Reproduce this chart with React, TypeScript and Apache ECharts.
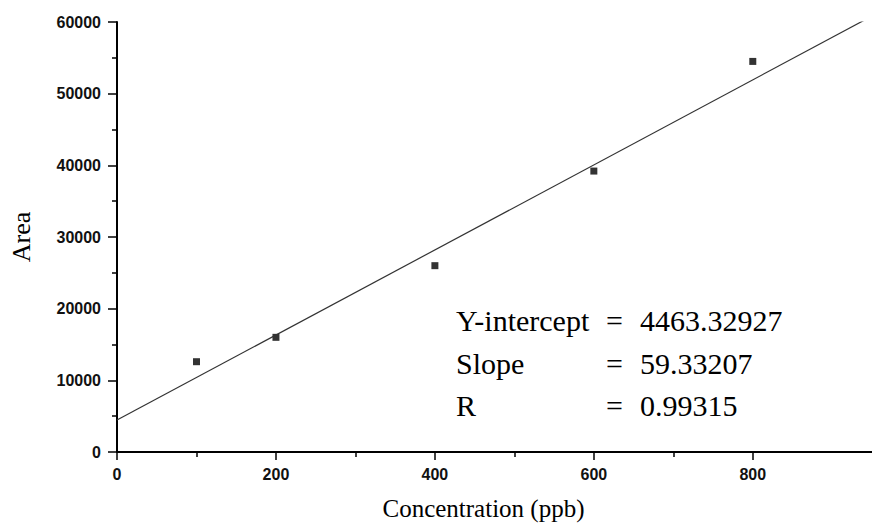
import React, { useEffect, useRef } from "react";
import * as echarts from "echarts";

// Data
const concentrations = [100, 200, 400, 600, 800];
const areas = [12600, 16000, 26000, 39200, 54500];

// Regression parameters shown on the chart
const intercept = 4463.32927;
const slope = 59.33207;
const fitXRange = [0, 950];

// Axis ticks
const xMajorTicks = [0, 200, 400, 600, 800];
const xMinorTicks = [100, 300, 500, 700];
const yMin = 0;
const yMax = 60000;
const yInterval = 10000;

// Annotation texts
const statLabels = ["Y-intercept", "Slope", "R"];
const statValues = ["4463.32927", "59.33207", "0.99315"];

const SERIF = "'Liberation Serif', 'Times New Roman', serif";
const SANS = "'Liberation Sans', Arial, sans-serif";

export default function App() {
  const ref = useRef<HTMLDivElement>(null);

  useEffect(() => {
    if (!ref.current) return;
    const chart = echarts.init(ref.current, undefined, { renderer: "svg" });

    const gridTop = 22;
    const gridBottom = 76;
    const gridHeight = 528 - gridTop - gridBottom;

    const fitLine = fitXRange.map((x) => [x, intercept + slope * x]);
    const scatter = concentrations.map((c, i) => [c, areas[i]]);

    const rowY = [320, 363, 405];
    const graphics: any[] = [];
    statLabels.forEach((lab, i) => {
      graphics.push({
        type: "text",
        x: 456,
        y: rowY[i],
        style: { text: lab, fontFamily: SERIF, fontSize: 30, fill: "#000", verticalAlign: "middle" },
      });
      graphics.push({
        type: "text",
        x: 606,
        y: rowY[i],
        style: { text: "=", fontFamily: SERIF, fontSize: 30, fill: "#000", verticalAlign: "middle" },
      });
      graphics.push({
        type: "text",
        x: 640,
        y: rowY[i],
        style: { text: statValues[i], fontFamily: SERIF, fontSize: 30, fill: "#000", verticalAlign: "middle" },
      });
    });

    chart.setOption({
      animation: false,
      backgroundColor: "#ffffff",
      grid: { left: 116, right: 0, top: gridTop, bottom: gridBottom, containLabel: false },
      xAxis: [
        {
          type: "value",
          min: fitXRange[0],
          max: fitXRange[1],
          interval: 200,
          position: "bottom",
          axisLine: { show: true, onZero: false, lineStyle: { color: "#000", width: 2 } },
          axisTick: { show: true, length: 8, customValues: xMajorTicks, lineStyle: { color: "#000", width: 1.5 } },
          axisLabel: {
            customValues: xMajorTicks,
            fontFamily: SANS,
            fontWeight: "bold",
            fontSize: 16,
            color: "#111",
            margin: 14,
          },
          splitLine: { show: false },
          name: "Concentration (ppb)",
          nameLocation: "middle",
          nameGap: 44,
          nameTextStyle: { fontFamily: SERIF, fontSize: 25, color: "#000", padding: [0, 22, 0, 0] },
        },
        {
          type: "value",
          min: fitXRange[0],
          max: fitXRange[1],
          position: "top",
          offset: -gridHeight,
          axisLine: { show: false },
          axisTick: { show: true, inside: true, length: 5, customValues: xMinorTicks, lineStyle: { color: "#000", width: 1.5 } },
          axisLabel: { show: false },
          splitLine: { show: false },
        },
      ],
      yAxis: {
        type: "value",
        min: yMin,
        max: yMax,
        interval: yInterval,
        axisLine: { show: true, onZero: false, lineStyle: { color: "#000", width: 2 } },
        axisTick: { show: true, length: 9, lineStyle: { color: "#000", width: 1.5 } },
        minorTick: { show: true, splitNumber: 2, length: 5, lineStyle: { color: "#000", width: 1.5 } },
        axisLabel: {
          fontFamily: SANS,
          fontWeight: "bold",
          fontSize: 16,
          color: "#111",
          margin: 16,
          formatter: (v: number) => String(v),
        },
        splitLine: { show: false },
        minorSplitLine: { show: false },
        name: "Area",
        nameLocation: "middle",
        nameGap: 83,
        nameTextStyle: { fontFamily: SERIF, fontSize: 26, color: "#000" },
      },
      series: [
        {
          type: "line",
          data: fitLine,
          xAxisIndex: 0,
          symbol: "none",
          clip: true,
          lineStyle: { color: "#333", width: 1.2 },
          silent: true,
        },
        {
          type: "scatter",
          data: scatter,
          xAxisIndex: 0,
          symbol: "rect",
          symbolSize: 7,
          itemStyle: { color: "#000" },
        },
      ],
      graphic: graphics,
    });

    return () => chart.dispose();
  }, []);

  return (
    <div
      ref={ref}
      style={{ position: "absolute", left: 0, top: 0, width: 872, height: 528, background: "#fff" }}
    />
  );
}
